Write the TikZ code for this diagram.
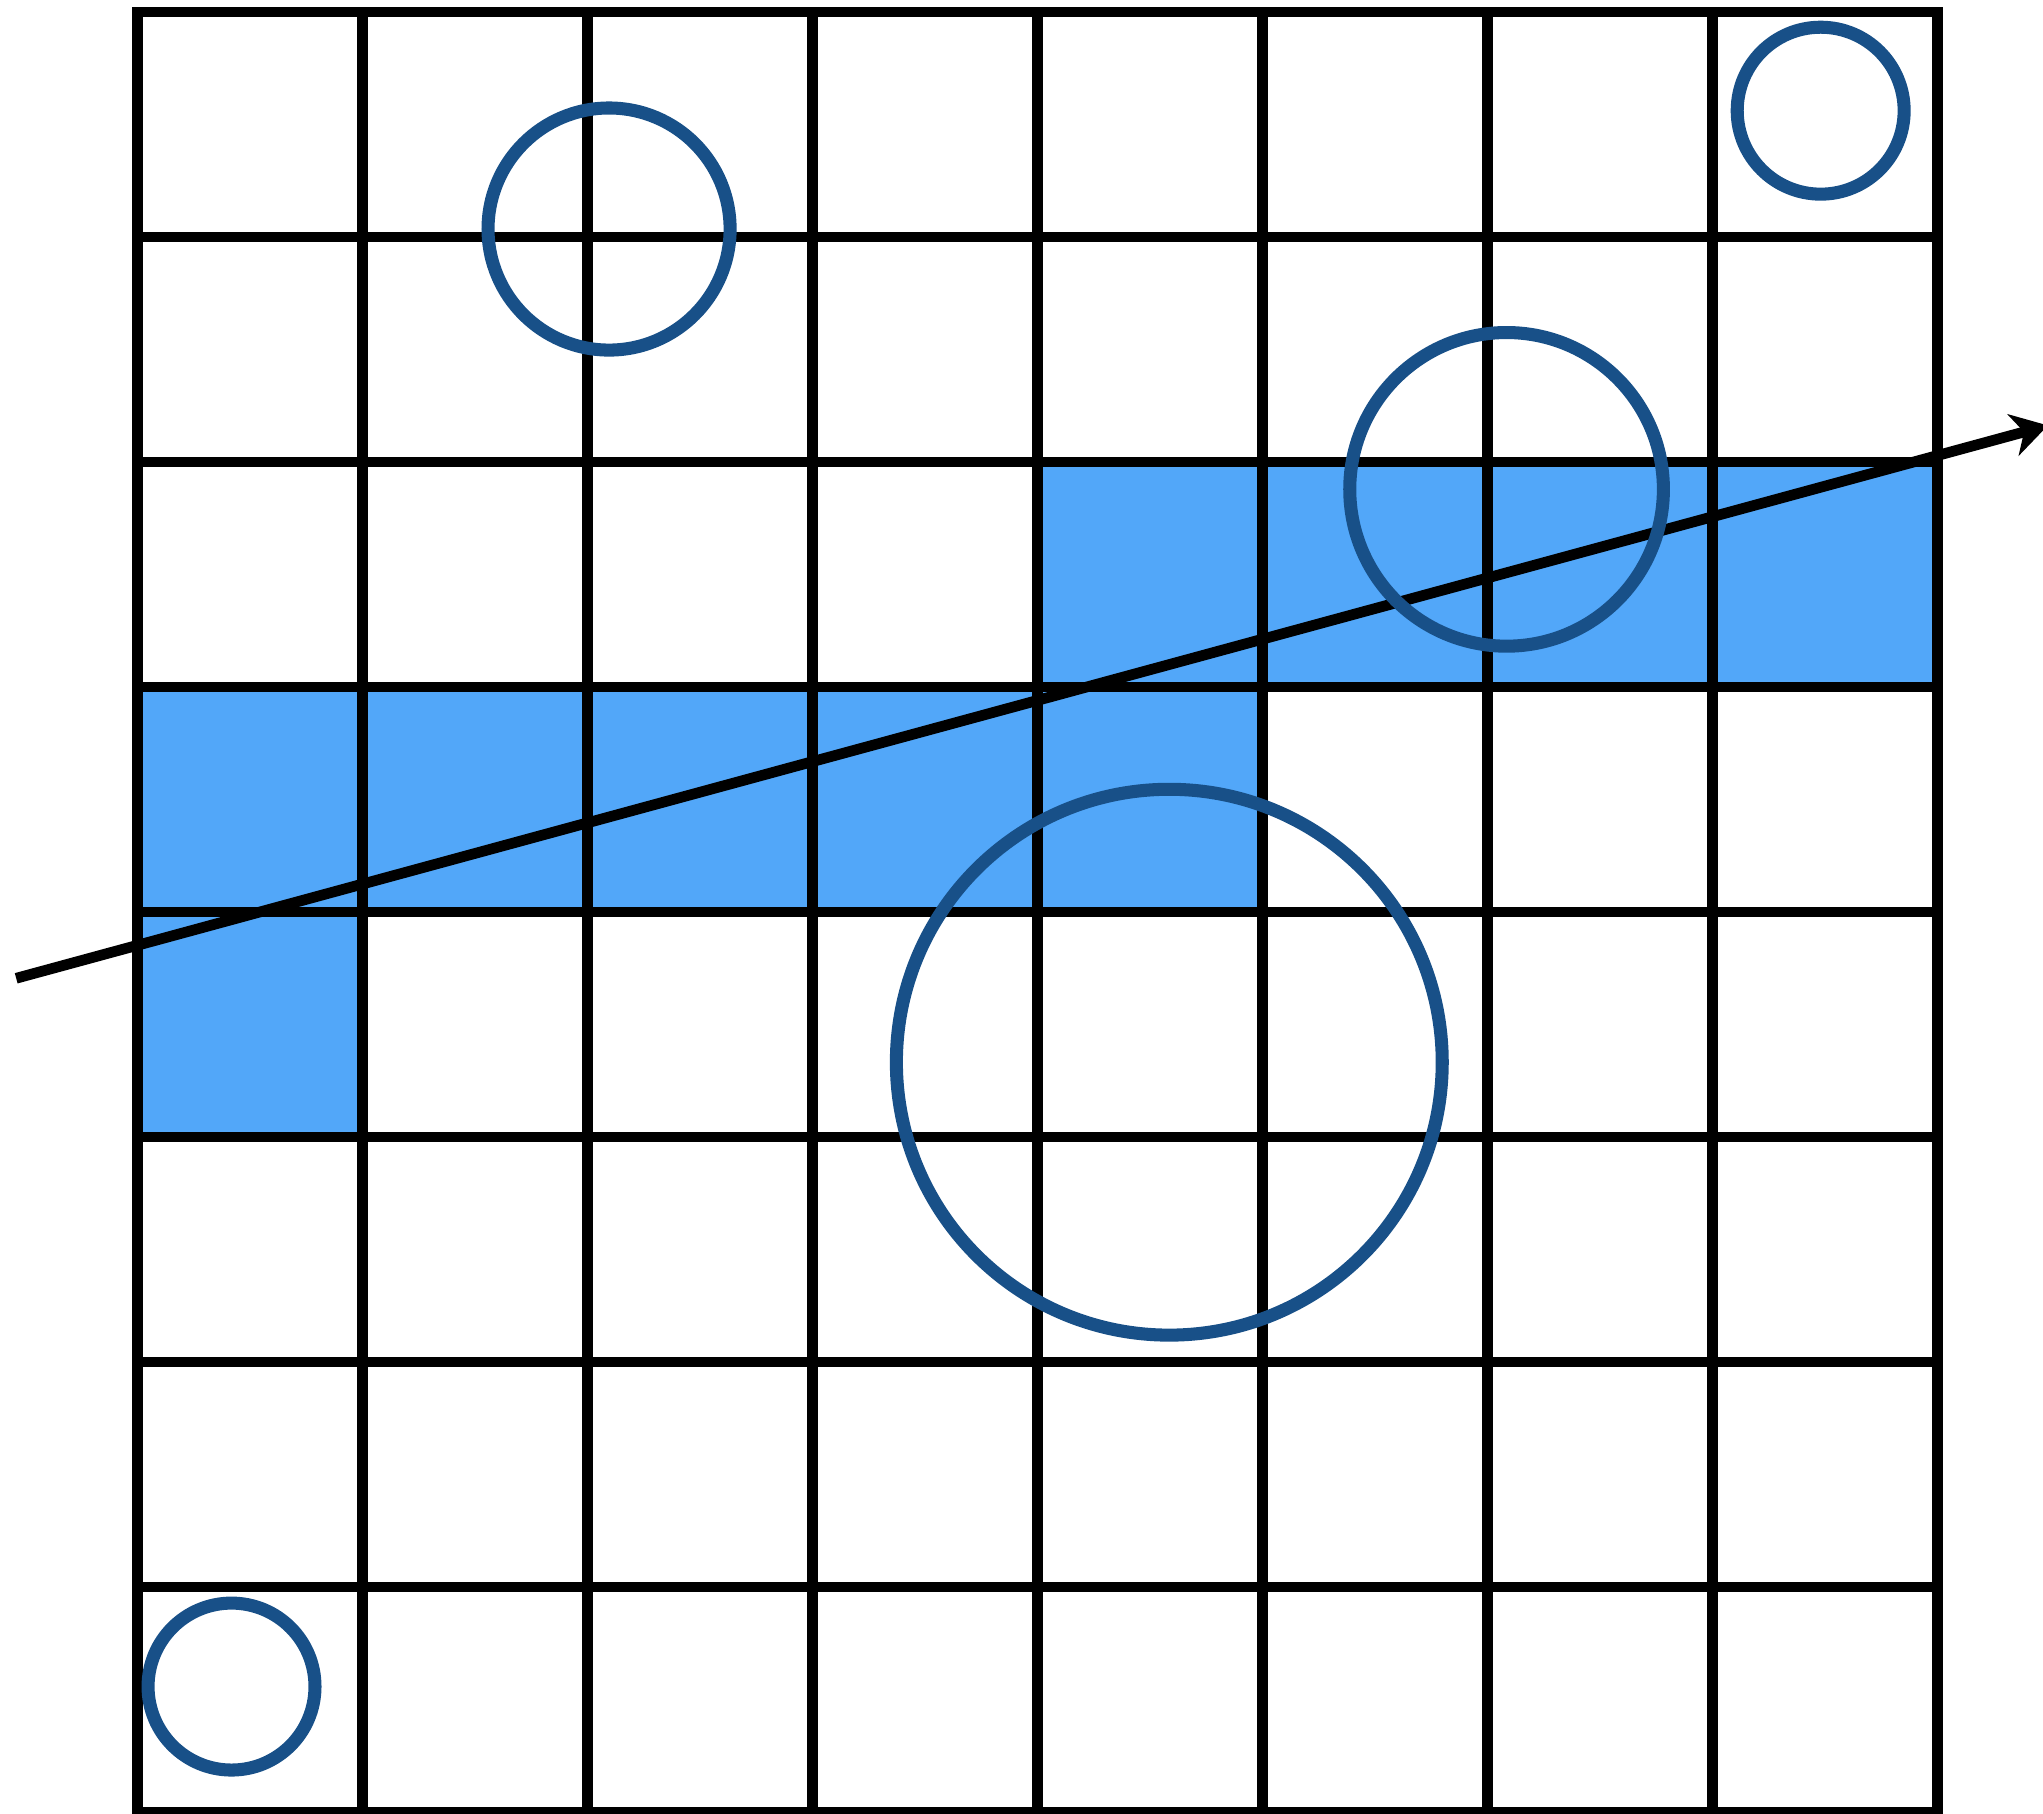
\documentclass[tikz,border=0pt]{standalone}
\usepackage{tikz}
\usetikzlibrary{arrows.meta}
\definecolor{cellblue}{RGB}{82,167,249}
\definecolor{ringblue}{RGB}{24,80,136}

\begin{document}
\begin{tikzpicture}[x=1cm, y=1cm,
    gridline/.style={black, line width=1.35pt, line cap=rect},
    ring/.style={ringblue, line width=1.65pt},
    ray/.style={black, line width=1.35pt,
      -{Stealth[length=1.6mm, width=1.9mm, inset=0.5mm]}}]
  \useasboundingbox (-0.612,-0.009) rectangle (8.468,8.053);
  \fill[cellblue] (4,5) rectangle (8,6);
  \fill[cellblue] (0,4) rectangle (5,5);
  \fill[cellblue] (0,3) rectangle (1,4);
  \foreach \k in {0,...,8} {
    \draw[gridline] (\k,0) -- (\k,8);
    \draw[gridline] (0,\k) -- (8,\k);
  }
  \coordinate (raystart) at (-0.54,3.705);
  \coordinate (rayend) at (8.49,6.162);
  \draw[ray] (raystart) -- (rayend);
  \draw[ring] (2.095,7.035) circle (0.538);
  \draw[ring] (7.480,7.561) circle (0.371);
  \draw[ring] (6.084,5.878) circle (0.697);
  \draw[ring] (4.585,3.332) circle (1.213);
  \draw[ring] (0.417,0.557) circle (0.371);
\end{tikzpicture}
\end{document}
